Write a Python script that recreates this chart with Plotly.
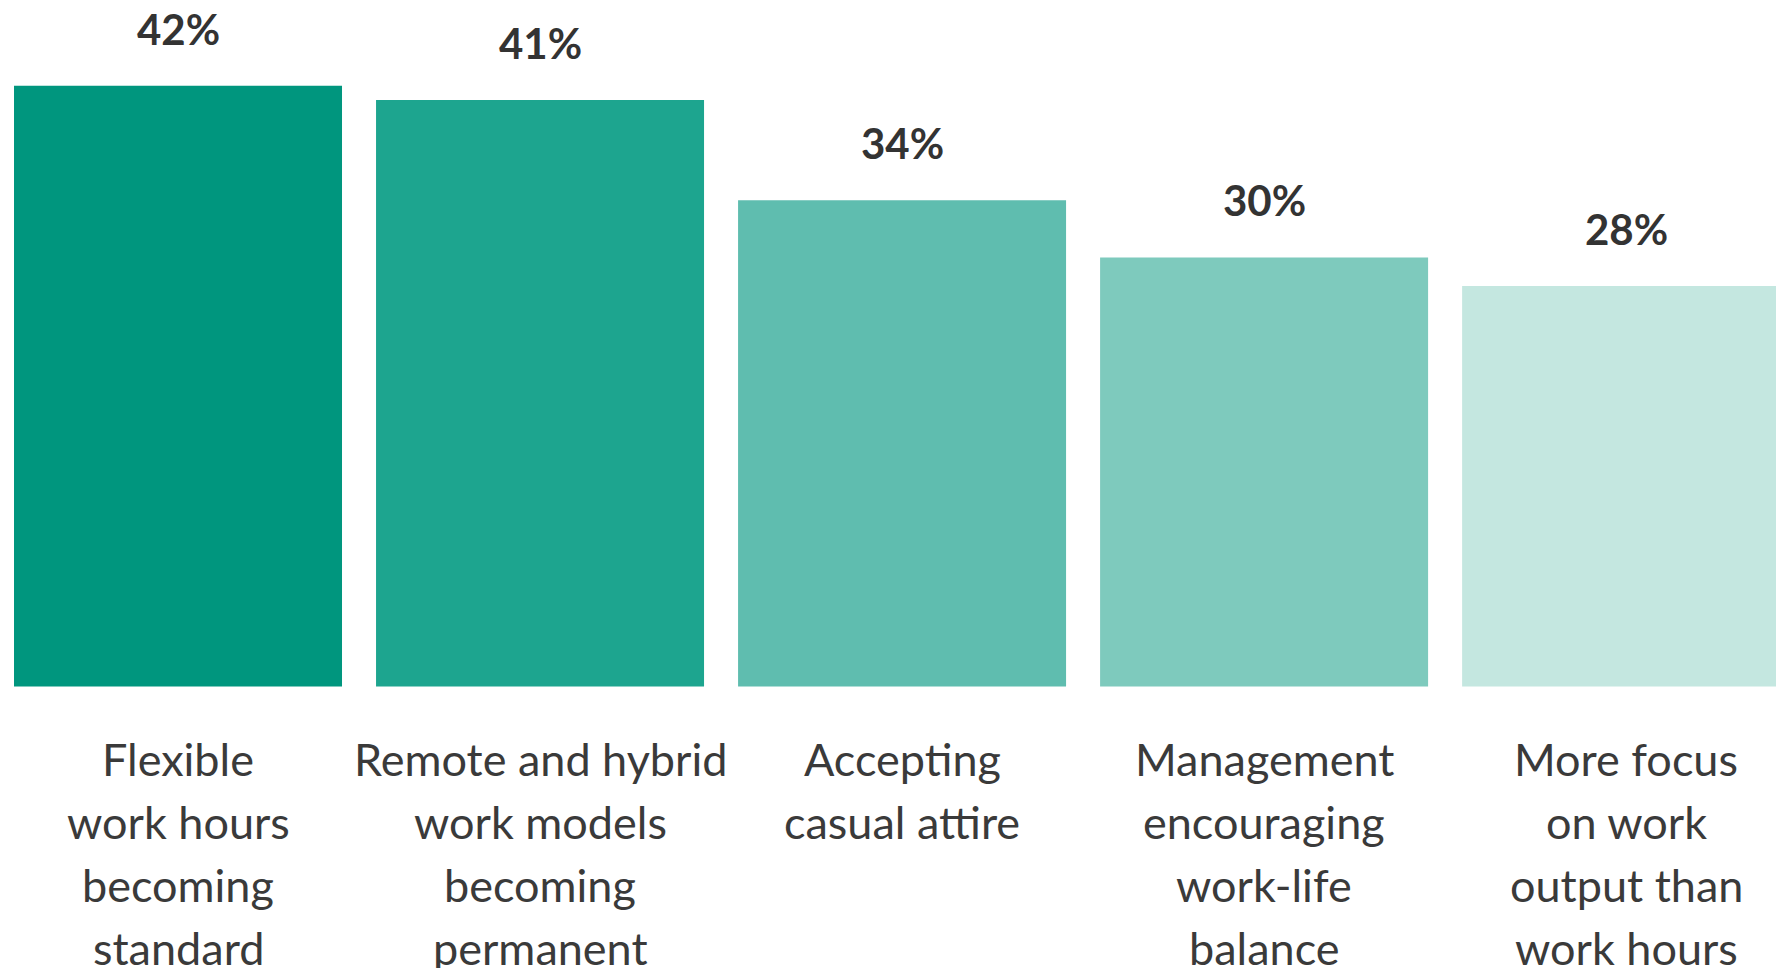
import plotly.graph_objects as go

categories = ["Flexible work hours becoming standard",
              "Remote and hybrid work models becoming permanent",
              "Accepting casual attire",
              "Management encouraging work-life balance",
              "More focus on work output than work hours"]
label_lines = [["Flexible", "work hours", "becoming", "standard"],
               ["Remote and hybrid", "work models", "becoming", "permanent"],
               ["Accepting", "casual attire"],
               ["Management", "encouraging", "work-life", "balance"],
               ["More focus", "on work", "output than", "work hours"]]
values = [42, 41, 34, 30, 28]
value_labels = ["42%", "41%", "34%", "30%", "28%"]
colors = ["#00967E", "#1DA58F", "#5FBDAF", "#7ECABD", "#C4E7E0"]

W, H = 1776, 968
x = list(range(len(categories)))

fig = go.Figure(go.Bar(x=x, y=values, width=0.906, marker=dict(color=colors, line=dict(width=0)),
                       hoverinfo="skip"))

annotations = []
for i, (v, t) in enumerate(zip(values, value_labels)):
    annotations.append(dict(x=i, y=v, xref="x", yref="y", text=t, showarrow=False,
                            yanchor="middle", yshift=57,
                            font=dict(family="Lato", size=42, color="#333333", weight="bold")))
for i, lines in enumerate(label_lines):
    for j, line in enumerate(lines):
        annotations.append(dict(x=i, y=0, xref="x", yref="y", text=line, showarrow=False,
                                yanchor="middle", yshift=-73 - 63 * j,
                                font=dict(family="Lato", size=45, color="#3a3a3a")))

fig.update_layout(
    width=W, height=H,
    margin=dict(l=0, r=0, t=0, b=0),
    paper_bgcolor="white", plot_bgcolor="white",
    showlegend=False,
    xaxis=dict(range=[-0.4917, 4.414], visible=False, fixedrange=True),
    yaxis=dict(range=[-19.69, 48.0], visible=False, fixedrange=True),
    annotations=annotations,
)

fig.write_html("out.html", config={"displayModeBar": False})
